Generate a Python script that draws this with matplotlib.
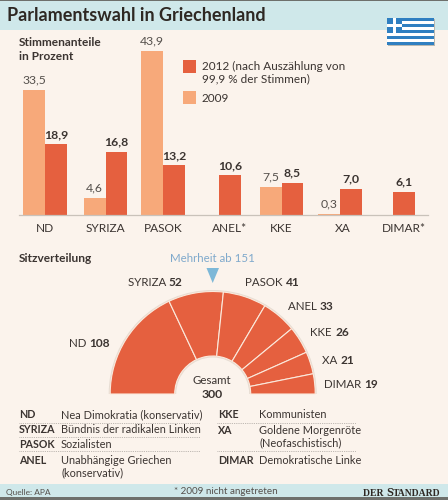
import matplotlib
matplotlib.use("Agg")
import matplotlib.pyplot as plt
from matplotlib.patches import Rectangle, Polygon

# Election results (percent of the vote)
parties = ["ND", "SYRIZA", "PASOK", "ANEL*", "KKE", "XA", "DIMAR*"]
votes_2009 = [33.5, 4.6, 43.9, None, 7.5, 0.3, None]
votes_2012 = [18.9, 16.8, 13.2, 10.6, 8.5, 7.0, 6.1]

# Seat distribution
seat_parties = ["ND", "SYRIZA", "PASOK", "ANEL", "KKE", "XA", "DIMAR"]
seats = [108, 52, 41, 33, 26, 21, 19]
total_seats = 300

# Party glossary
glossary_left = [("ND", ["Nea Dimokratia (konservativ)"]),
                 ("SYRIZA", ["Bündnis der radikalen Linken"]),
                 ("PASOK", ["Sozialisten"]),
                 ("ANEL", ["Unabhängige Griechen", "(konservativ)"])]
glossary_right = [("KKE", ["Kommunisten"]),
                  ("XA", ["Goldene Morgenröte", "(Neofaschistisch)"]),
                  ("DIMAR", ["Demokratische Linke"])]

W, H = 448, 500
BG = "#FBF3EC"
BAND = "#CFE8EA"
RED = "#E5603F"
PEACH = "#F7A97A"
INK = "#3B3431"
SOFT = "#55504C"
SKY = "#7DB8D8"
FLAG = "#2F7FC1"

plt.rcParams["font.family"] = ["Lato", "DejaVu Sans"]

fig = plt.figure(figsize=(W / 100, H / 100), dpi=100, facecolor=BG)


def px_axes(left, top, right, bottom, **kw):
    return fig.add_axes([left / W, 1 - bottom / H, (right - left) / W, (bottom - top) / H], **kw)


# Page layer in pixel coordinates
page = fig.add_axes([0, 0, 1, 1])
page.set_xlim(0, W)
page.set_ylim(H, 0)
page.axis("off")


def label(x, y, s, size=8.3, weight="normal", color=INK, ha="left", family=None, va="center"):
    kw = {"family": family} if family else {}
    return page.text(x, y, s, fontsize=size, fontweight=weight, color=color,
                     ha=ha, va=va, **kw)


def run(x, y, pieces, **kw):
    """Set text pieces one after another on a shared baseline."""
    renderer = fig.canvas.get_renderer()
    for s, size, weight in pieces:
        t = label(x, y, s, size=size, weight=weight, va="baseline", **kw)
        x += t.get_window_extent(renderer).width


page.add_patch(Rectangle((0, 0), W, 1.2, color="#6E706C", lw=0))
page.add_patch(Rectangle((0, 1.2), W, 28.6, color=BAND, lw=0))
page.add_patch(Rectangle((0, 484), W, 13.2, color=BAND, lw=0))
page.add_patch(Rectangle((0, 497.2), W, 2.8, color="#6E706C", lw=0))

label(7, 15.5, "Parlamentswahl in Griechenland", size=13.0, weight="bold", color="#2E2823")

# Flag with a soft drop shadow
fx, fy, fw, fh = 387, 17.7, 47, 27.4
page.add_patch(Rectangle((fx + 1, fy + 1), fw, fh, color="#B9B8B0", lw=0))
page.add_patch(Rectangle((fx, fy), fw, fh, color=FLAG, lw=0))
stripe = fh / 9
for i in range(1, 9, 2):
    page.add_patch(Rectangle((fx, fy + i * stripe), fw, stripe, color="white", lw=0))
cw = 5 * stripe
page.add_patch(Rectangle((fx, fy), cw, cw, color=FLAG, lw=0))
page.add_patch(Rectangle((fx, fy + 2 * stripe), cw, stripe, color="white", lw=0))
page.add_patch(Rectangle((fx + 2 * stripe, fy), stripe, cw, color="white", lw=0))

# Vote share section
label(19, 42.5, "Stimmenanteile", weight="bold", size=8.6)
label(19, 56, "in Prozent", weight="bold", size=8.6)

page.add_patch(Rectangle((183, 60), 13, 13, color=RED, lw=0))
page.add_patch(Rectangle((183, 91), 13, 13, color=PEACH, lw=0))
label(202, 66, "2012 (nach Auszählung von", size=8.5)
label(202, 79, "99,9 % der Stimmen)", size=8.5)
label(202, 98, "2009", size=8.5)

BASE_PX, TOP_PX = 214.7, 30
PX_PER_PCT = 3.735
bars = px_axes(19, TOP_PX, 428, BASE_PX, facecolor="none")
bars.set_xlim(19, 428)
bars.set_ylim(0, (BASE_PX - TOP_PX) / PX_PER_PCT)

centers = [45, 105.5, 163, 230, 281.5, 340, 404]
tick_x = [45, 105.5, 163, 230, 281.5, 342.5, 404]
bar_w = 21.6

for cx, old, new in zip(centers, votes_2009, votes_2012):
    if old is None:
        bars.bar(cx, new, width=bar_w, color=RED, lw=0)
        new_x = cx
    else:
        bars.bar(cx, old, width=-bar_w, align="edge", color=PEACH, lw=0)
        bars.bar(cx, new, width=bar_w, align="edge", color=RED, lw=0)
        new_x = cx + bar_w / 2
        bars.annotate(f"{old:.1f}".replace(".", ","), (cx - bar_w / 2, old), xytext=(0, 3),
                      textcoords="offset points", ha="center", va="bottom",
                      fontsize=8.8, color=SOFT, annotation_clip=False)
    bars.annotate(f"{new:.1f}".replace(".", ","), (new_x, new), xytext=(0, 3),
                  textcoords="offset points", ha="center", va="bottom",
                  fontsize=8.8, fontweight="bold", color=INK, annotation_clip=False)

for side in ("top", "left", "right"):
    bars.spines[side].set_visible(False)
bars.spines["bottom"].set_color("#C9C2BA")
bars.spines["bottom"].set_linewidth(0.9)
bars.set_yticks([])
bars.set_xticks(tick_x, parties)
bars.tick_params(axis="x", length=0, pad=6, labelsize=8.6, labelcolor=INK)

# Seat distribution section
label(19, 259, "Sitzverteilung", weight="bold", size=8.6)
label(212.5, 259, "Mehrheit ab 151", size=8.3, color="#7FA9CC", ha="center")
page.add_patch(Polygon([(206.5, 268), (219, 268), (212.7, 283)], color=SKY, lw=0))

CX, CY, R_OUT, R_IN = 212.7, 394, 102.5, 38
fractions = [s / (2 * total_seats) for s in seats]

# Faint halo under the hemicycle
halo = px_axes(CX - R_OUT - 1.5, CY - R_OUT - 1.5, CX + R_OUT + 1.5, CY + R_OUT + 1.5, facecolor="none")
halo.pie([0.5], normalize=False, startangle=180, counterclock=False, colors=["#E6DCD2"], radius=1,
         wedgeprops=dict(width=1 - (R_IN - 1.5) / (R_OUT + 1.5), linewidth=0))
halo.set_xlim(-1, 1)
halo.set_ylim(-1, 1)
halo.axis("off")

hemi = px_axes(CX - R_OUT, CY - R_OUT, CX + R_OUT, CY + R_OUT, facecolor="none")
hemi.pie(fractions, normalize=False, startangle=180, counterclock=False,
         colors=[RED] * len(seats), radius=1,
         wedgeprops=dict(width=1 - R_IN / R_OUT, edgecolor="#FBE9DC", linewidth=0.8))
hemi.set_xlim(-1, 1)
hemi.set_ylim(-1, 1)
hemi.axis("off")

fig.canvas.draw()
seat_label_pos = [(69, 347), (127.5, 285.5), (245, 285.5), (288, 309.5), (310.5, 336.5), (322, 363.5), (324, 388.5)]
for (x, y), name, n in zip(seat_label_pos, seat_parties, seats):
    run(x, y, [(name + " ", 8.3, "normal"), (str(n), 8.6, "bold")])

label(212, 381, "Gesamt", size=8.3, ha="center")
label(212, 395, str(total_seats), size=8.8, weight="bold", ha="center")

# Glossary tables
left_rows = [414.5, 429.5, 445, 460]
right_rows = [414.5, 430, 460]
LINE_STEP = 12.3
for (abbr, lines), y in zip(glossary_left, left_rows):
    label(19, y, abbr, weight="bold", size=7.7)
    for k, line in enumerate(lines):
        label(61, y + k * LINE_STEP, line, size=7.9)
for (abbr, lines), y in zip(glossary_right, right_rows):
    label(218, y, abbr, weight="bold", size=7.7)
    for k, line in enumerate(lines):
        label(259, y + k * LINE_STEP, line, size=7.9)
for y in (422.7, 436.7, 451.3):
    page.plot([19, 200], [y, y], color="#A9A49E", lw=0.6, ls=(0, (1, 1.2)))
for y in (422.7, 451.3):
    page.plot([217, 356], [y, y], color="#A9A49E", lw=0.6, ls=(0, (1, 1.2)))

# Footer
label(6, 493, "Quelle: APA", size=6.0, color=SOFT)
label(226, 492, "* 2009 nicht angetreten", size=7.1, color=SOFT, ha="center")
run(363, 496, [("DER ", 6.9, "bold"), ("S", 8.9, "bold"), ("TANDARD", 6.9, "bold")],
    color="#2E2823", family="Liberation Serif")

fig.savefig("out.png", dpi=100, facecolor=BG)
